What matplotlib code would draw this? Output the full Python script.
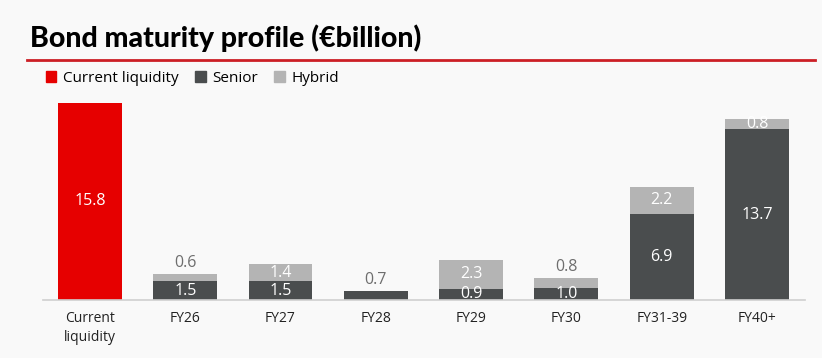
import matplotlib.pyplot as plt
import numpy as np
from matplotlib.patches import Patch
from matplotlib.lines import Line2D

# Bond maturity profile (EUR billion)

categories = ["Current\nliquidity", "FY26", "FY27", "FY28", "FY29", "FY30", "FY31-39", "FY40+"]
liquidity = [15.8, 0, 0, 0, 0, 0, 0, 0]
senior = [0, 1.5, 1.5, 0.7, 0.9, 1.0, 6.9, 13.7]
hybrid = [0, 0.6, 1.4, 0, 2.3, 0.8, 2.2, 0.8]

red = "#E60000"
dark = "#4A4D4E"
light = "#B4B4B4"
grey_txt = "#6E6E6E"
bg = "#F9F9F9"

plt.rcParams["font.family"] = ["Open Sans", "DejaVu Sans"]

fig = plt.figure(figsize=(8.22, 3.58), dpi=100, facecolor=bg)
ax = fig.add_axes([43 / 822, 1 - 300 / 358, (805 - 43) / 822, 200 / 358])
ax.set_facecolor(bg)

x = np.arange(len(categories))
w = 0.67
ax.bar(x, liquidity, width=w, color=red)
ax.bar(x, senior, width=w, color=dark)
ax.bar(x, hybrid, width=w, bottom=senior, color=light)

ax.set_xlim(-0.493, 7.504)
ax.set_ylim(0, 200 / 12.47)

# value labels
ax.text(0, liquidity[0] / 2, f"{liquidity[0]:.1f}", ha="center", va="center",
        color="white", fontsize=11.5)
for i in range(1, len(categories)):
    s = senior[i]
    h = hybrid[i]
    if h == 0:
        # senior-only bar, label sits above
        ax.text(i, s + 0.25, f"{s:.1f}", ha="center", va="bottom",
                color=grey_txt, fontsize=11.5)
        continue
    ax.text(i, s / 2, f"{s:.1f}", ha="center", va="center",
            color="white", fontsize=11.5)
    if h < 1.0 and s < 5:
        ax.text(i, s + h + 0.2, f"{h:.1f}", ha="center", va="bottom",
                color=grey_txt, fontsize=11.5)
    else:
        ax.text(i, s + h / 2, f"{h:.1f}", ha="center", va="center",
                color="white", fontsize=11.5)

ax.set_xticks(x)
ax.set_xticklabels(categories, fontsize=10, color="#222222", linespacing=1.35)
ax.tick_params(axis="x", length=0, pad=8)
ax.set_yticks([])
for sp in ["top", "right", "left"]:
    ax.spines[sp].set_visible(False)
ax.spines["bottom"].set_color("#CFCFCF")
ax.spines["bottom"].set_linewidth(1.2)

# title and rule
fig.text(30 / 822, 1 - 38 / 358, "Bond maturity profile (€billion)",
         fontsize=20.5, fontweight="black", family=["Lato", "DejaVu Sans"],
         va="center", ha="left", color="black")
fig.add_artist(Line2D([27 / 822, 815 / 822], [1 - 60 / 358, 1 - 60 / 358],
                      color="#CC1F25", lw=2))

handles = [Patch(color=red, label="Current liquidity"),
           Patch(color=dark, label="Senior"),
           Patch(color=light, label="Hybrid")]
fig.legend(handles=handles, loc="center left", ncol=3, frameon=False,
           bbox_to_anchor=(32 / 822, 1 - 78 / 358), fontsize=11,
           handlelength=0.7, handleheight=0.7, handletextpad=0.4,
           columnspacing=1.1)

fig.savefig("out.png", dpi=100, facecolor=bg)
